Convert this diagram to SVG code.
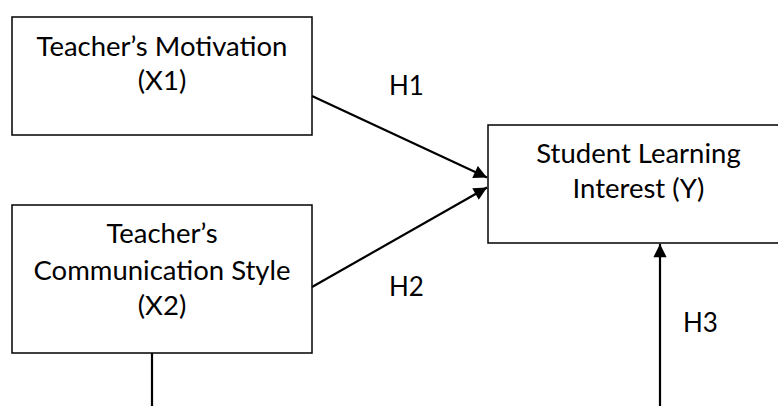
<svg xmlns="http://www.w3.org/2000/svg" width="778" height="406" viewBox="0 0 778 406">
<defs>
<style>
.box{fill:#fff;stroke:#000;stroke-width:1.5}
.t{font-family:Lato,"Open Sans","Liberation Sans",sans-serif;font-size:27.5px;fill:#000;text-anchor:middle}
.l{font-family:Lato,"Open Sans","Liberation Sans",sans-serif;font-size:26px;fill:#000}
.c{stroke:#000;stroke-width:2.2;fill:none}
</style>
<marker id="ah" viewBox="0 0 10 10" refX="10" refY="5" markerWidth="7" markerHeight="6" markerUnits="strokeWidth" orient="auto">
<path d="M0,0 L10,5 L0,10 z" fill="#000"/>
</marker>
</defs>
<rect width="778" height="406" fill="#fff"/>
<g id="x1">
<rect class="box" x="12" y="17" width="300" height="118"/>
<text class="t" x="162" y="56">Teacher’s Motivation</text>
<text class="t" x="162" y="90">(X1)</text>
</g>
<g id="x2">
<rect class="box" x="12" y="205" width="300" height="148"/>
<text class="t" x="162" y="243">Teacher’s</text>
<text class="t" x="162" y="280">Communication Style</text>
<text class="t" x="162" y="315">(X2)</text>
</g>
<g id="y">
<rect class="box" x="488" y="125" width="302" height="118"/>
<text class="t" x="638.5" y="163">Student Learning</text>
<text class="t" x="638.5" y="198">Interest (Y)</text>
</g>
<g id="connectors">
<line class="c" x1="312" y1="96" x2="487" y2="177.5" marker-end="url(#ah)"/>
<line class="c" x1="312" y1="287" x2="487" y2="187.5" marker-end="url(#ah)"/>
<line class="c" x1="660" y1="406" x2="660" y2="244" marker-end="url(#ah)"/>
<line class="c" x1="152" y1="353" x2="152" y2="406"/>
</g>
<g id="labels">
<text class="l" x="389" y="95">H1</text>
<text class="l" x="389" y="296">H2</text>
<text class="l" x="683" y="332">H3</text>
</g>
</svg>
